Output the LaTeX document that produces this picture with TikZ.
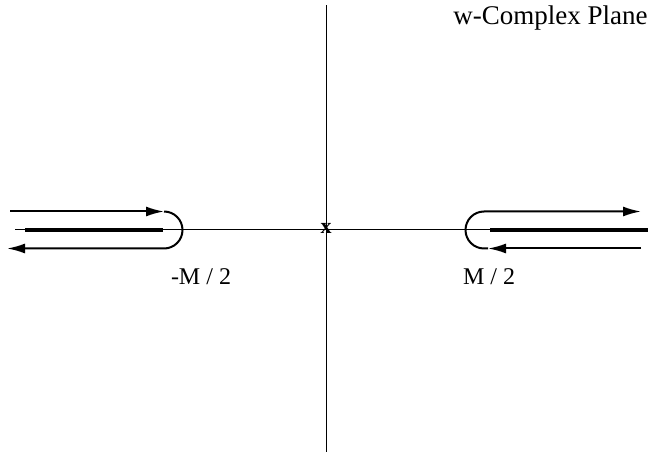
\documentclass[tikz,border=0pt]{standalone}
\usepackage{fontspec}
\setmainfont{Liberation Serif}
\usetikzlibrary{arrows.meta}
\begin{document}
\begin{tikzpicture}[x=0.5pt,y=0.5pt,>={Latex[length=9pt,width=5pt]},
    every node/.style={font=\fontsize{12}{14}\selectfont},
    axis/.style={line width=0.5pt},
    cut/.style={line width=2.2pt},
    contour/.style={line width=1pt}]
    \useasboundingbox (0,0) rectangle (648,455);
    \draw[axis] (326,3) -- (326,450);
    \draw[axis] (15,225) -- (648,225);
    \node[font=\fontsize{11}{12}\selectfont\bfseries,inner sep=0pt] (origin) at (326,226.5) {x};
    % branch cuts
    \draw[cut] (25,225) -- (163,225);
    \draw[cut] (490,225) -- (648,225);
    % left contour
    \draw[contour,->] (10,243.5) -- (164,243.5);
    \draw[contour,->] (164,243.5) arc[start angle=90,end angle=-90,radius=18.5]
        -- (7,206.5);
    % right contour
    \draw[contour,->] (641,206.5) -- (488,206.5);
    \draw[contour,->] (488,206.5) -- (484,206.5)
        arc[start angle=270,end angle=90,radius=18.5] -- (641,243.5);
    \node (minushalf) at (201,178) {-M / 2};
    \node (plushalf) at (489,178) {M / 2};
    \node[anchor=east,inner sep=0pt,font=\fontsize{13.5}{15}\selectfont] (plane)
        at (648,437) {w-Complex Plane};
\end{tikzpicture}
\end{document}
